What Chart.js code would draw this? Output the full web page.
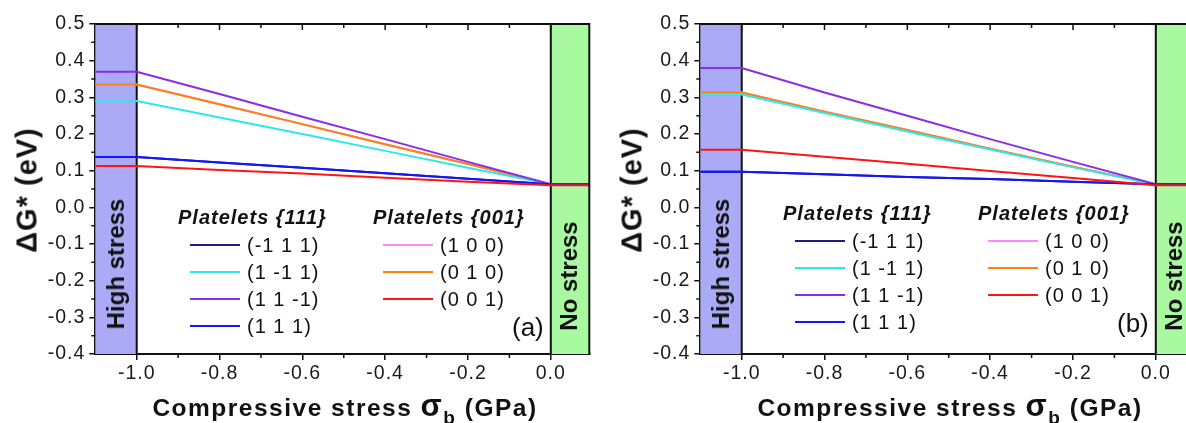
<!DOCTYPE html>
<html><head><meta charset="utf-8">
<script src="https://cdn.jsdelivr.net/npm/chart.js@4.4.1/dist/chart.umd.min.js"></script>
<style>
html,body{margin:0;padding:0;background:#fff;overflow:hidden;width:1186px;height:423px;}
.panel{position:absolute;top:0;width:600px;height:423px;}
.panel canvas{position:absolute;left:0;top:0;}
.t{position:absolute;white-space:nowrap;font-family:"Liberation Sans",Arial,sans-serif;color:#111;line-height:1;}
.c{transform:translate(-50%,-50%);}
.r{transform:translate(-50%,-50%) rotate(-90deg);}
.v{transform:translateY(-50%);}
.sw{position:absolute;height:2px;}
</style></head><body>
<script>
// ---- data ----
const xValues = [-1.1, -1.0, -0.8, -0.6, -0.4, -0.2, 0.0, 0.1];
const xTickValues = [-1.0, -0.8, -0.6, -0.4, -0.2, 0.0];
const xMinorValues = [-0.9, -0.7, -0.5, -0.3, -0.1];
const yTickValues = [-0.4, -0.3, -0.2, -0.1, 0.0, 0.1, 0.2, 0.3, 0.4, 0.5];
const yMinorValues = [-0.35, -0.25, -0.15, -0.05, 0.05, 0.15, 0.25, 0.35, 0.45];
const highStressRange = [-1.1, -1.0];
const noStressRange = [0.0, 0.093];
const yRange = [-0.4, 0.5];

const seriesLabels = ['(-1 1 1)', '(1 -1 1)', '(1 1 -1)', '(1 1 1)', '(1 0 0)', '(0 1 0)', '(0 0 1)'];
const seriesColors = ['#1c1c8c', '#2ee8e8', '#8a2ceb', '#1414ff', '#ff88ff', '#ff8010', '#ff1414'];
const seriesGroup = [0, 0, 0, 0, 1, 1, 1];
const groupTitles = ['Platelets {111}', 'Platelets {001}'];

// panel (a)
const a_m111 = [0.137, 0.137, 0.122, 0.108, 0.093, 0.078, 0.063, 0.063];
const a_1m11 = [0.290, 0.290, 0.245, 0.200, 0.154, 0.108, 0.063, 0.063];
const a_11m1 = [0.370, 0.370, 0.309, 0.247, 0.186, 0.124, 0.063, 0.063];
const a_111  = [0.137, 0.137, 0.122, 0.108, 0.093, 0.078, 0.063, 0.063];
const a_100  = [0.335, 0.335, 0.281, 0.227, 0.172, 0.118, 0.062, 0.062];
const a_010  = [0.335, 0.335, 0.281, 0.227, 0.172, 0.118, 0.062, 0.062];
const a_001  = [0.113, 0.113, 0.102, 0.092, 0.081, 0.070, 0.060, 0.060];
// panel (b)
const b_m111 = [0.097, 0.097, 0.090, 0.083, 0.077, 0.070, 0.063, 0.063];
const b_1m11 = [0.308, 0.308, 0.257, 0.207, 0.158, 0.109, 0.062, 0.062];
const b_11m1 = [0.380, 0.380, 0.313, 0.250, 0.186, 0.124, 0.063, 0.063];
const b_111  = [0.097, 0.097, 0.090, 0.083, 0.077, 0.070, 0.063, 0.063];
const b_100  = [0.313, 0.313, 0.261, 0.211, 0.160, 0.111, 0.062, 0.062];
const b_010  = [0.313, 0.313, 0.261, 0.211, 0.160, 0.111, 0.062, 0.062];
const b_001  = [0.157, 0.157, 0.138, 0.119, 0.099, 0.080, 0.060, 0.060];

const panelA = [a_m111, a_1m11, a_11m1, a_111, a_100, a_010, a_001];
const panelB = [b_m111, b_1m11, b_11m1, b_111, b_100, b_010, b_001];
// draw order (higher = drawn first / underneath)
const seriesOrder = [10, 3, 2, 1, 10, 4, 0];

const FONT = '"Liberation Sans", Arial, sans-serif';

const framePlugin = {
  id: 'frame',
  beforeInit(chart) { chart.ctx.letterSpacing = '1px'; },
  beforeDraw(chart) { chart.ctx.letterSpacing = '1px'; },
  beforeDatasetsDraw(chart) {
    const {ctx, chartArea: {left, right, top, bottom}, scales: {x, y}} = chart;
    const xh = x.getPixelForValue(highStressRange[1]);
    const xn = x.getPixelForValue(noStressRange[0]);
    ctx.save();
    ctx.fillStyle = '#aaaaf6';
    ctx.fillRect(left, top, xh - left, bottom - top);
    ctx.fillStyle = '#a8f9a0';
    ctx.fillRect(xn, top, right - xn, bottom - top);
    ctx.strokeStyle = '#111';
    ctx.lineWidth = 2;
    ctx.beginPath();
    ctx.moveTo(xh, top); ctx.lineTo(xh, bottom);
    ctx.moveTo(xn, top); ctx.lineTo(xn, bottom);
    ctx.stroke();
    ctx.restore();
  },
  afterDraw(chart) {
    const {ctx, chartArea: {left, right, top, bottom}, scales: {x, y}} = chart;
    ctx.save();
    ctx.strokeStyle = '#111';
    ctx.lineWidth = 2;
    ctx.beginPath();
    ctx.moveTo(left - 1, top); ctx.lineTo(right + 1, top);
    ctx.moveTo(right, top); ctx.lineTo(right, bottom);
    ctx.stroke();
    ctx.lineWidth = 1.5;
    ctx.beginPath();
    xTickValues.forEach(v => { const p = x.getPixelForValue(v); ctx.moveTo(p, top); ctx.lineTo(p, top + 6); });
    xMinorValues.forEach(v => { const p = x.getPixelForValue(v); ctx.moveTo(p, top); ctx.lineTo(p, top + 4);
      ctx.moveTo(p, bottom); ctx.lineTo(p, bottom + 4); });
    yMinorValues.forEach(v => { const p = y.getPixelForValue(v); ctx.moveTo(left - 4, p); ctx.lineTo(left, p); });
    ctx.stroke();
    ctx.restore();
  }
};

function makePanel(offsetX, data, dy, tag) {
  const panel = document.createElement('div');
  panel.className = 'panel';
  panel.style.left = offsetX + 'px';
  document.body.appendChild(panel);
  const cv = document.createElement('canvas');
  cv.width = 600; cv.height = 423;
  cv.style.width = '600px'; cv.style.height = '423px';
  panel.appendChild(cv);

  const datasets = data.map((d, i) => ({
    label: seriesLabels[i],
    data: d.map((v, j) => ({x: xValues[j], y: v})),
    borderColor: seriesColors[i],
    backgroundColor: seriesColors[i],
    borderWidth: 2,
    pointRadius: 0,
    tension: 0,
    order: seriesOrder[i]
  }));

  new Chart(cv, {
    type: 'line',
    data: {datasets},
    plugins: [framePlugin],
    options: {
      responsive: false, animation: false, devicePixelRatio: 1,
      layout: {padding: {left: 0, top: 24, right: 600 - 589.3, bottom: 0}},
      plugins: {legend: {display: false}, tooltip: {enabled: false}},
      scales: {
        x: {
          type: 'linear', min: highStressRange[0], max: noStressRange[1],
          afterBuildTicks: s => { s.ticks = xTickValues.map(v => ({value: v})); },
          afterFit: s => { s.height = 69; },
          grid: {drawOnChartArea: false, drawTicks: true, tickLength: 6, color: '#111', lineWidth: 1.5},
          border: {display: true, color: '#111', width: 2},
          ticks: {callback: v => v.toFixed(1), color: '#1a1a1a', font: {family: FONT, size: 19.5}, padding: 2, maxRotation: 0, autoSkip: false}
        },
        y: {
          type: 'linear', min: yRange[0], max: yRange[1],
          afterBuildTicks: s => { s.ticks = yTickValues.map(v => ({value: v})); },
          afterFit: s => { s.width = 95.3; },
          grid: {drawOnChartArea: false, drawTicks: true, tickLength: 6, color: '#111', lineWidth: 1.5},
          border: {display: true, color: '#111', width: 2},
          ticks: {callback: v => v.toFixed(1), color: '#1a1a1a', font: {family: FONT, size: 19.5}, padding: 4, autoSkip: false}
        }
      }
    }
  });

  const add = (html, cls, left, top, style) => {
    const el = document.createElement('div');
    el.className = 't ' + cls;
    el.style.left = left + 'px'; el.style.top = top + 'px';
    el.innerHTML = html;
    if (style) el.style.cssText += style;
    panel.appendChild(el);
    return el;
  };
  // axis titles
  add('ΔG* (eV)', 'r', 27, 190, 'font-weight:bold;font-size:29px;letter-spacing:1px;');
  add('Compressive stress <span style="font-size:31px;">σ</span><span style="font-size:19px;position:relative;top:8px;">b</span> (GPa)', 'c', 345, 405, 'font-weight:bold;font-size:24.5px;letter-spacing:1.5px;');
  // region labels
  add('High stress', 'r', 116, 264, 'font-weight:bold;font-size:24px;');
  add('No stress', 'r', 569, 276, 'font-weight:bold;font-size:24px;');
  add('(' + tag + ')', 'v', 512, 327 + dy, 'font-size:26px;');
  // legend
  const colX = [{title: 178, line: 190, text: 247}, {title: 373, line: 383, text: 440}];
  const rowY = [245, 272, 299, 326];
  groupTitles.forEach((g, gi) => add(g, 'v', colX[gi].title, 217 + dy, 'font-weight:bold;font-style:italic;font-size:20px;letter-spacing:1px;'));
  const cnt = [0, 0];
  seriesLabels.forEach((lab, i) => {
    const g = seriesGroup[i];
    const yy = rowY[cnt[g]++] + dy;
    const sw = document.createElement('div');
    sw.className = 'sw';
    sw.style.cssText += `left:${colX[g].line}px;top:${yy - 1}px;width:50px;background:${seriesColors[i]};`;
    panel.appendChild(sw);
    add(lab, 'v', colX[g].text, yy, 'font-size:20px;letter-spacing:1px;');
  });
}

makePanel(0, panelA, 0, 'a');
makePanel(605, panelB, -4, 'b');
</script>
</body></html>
